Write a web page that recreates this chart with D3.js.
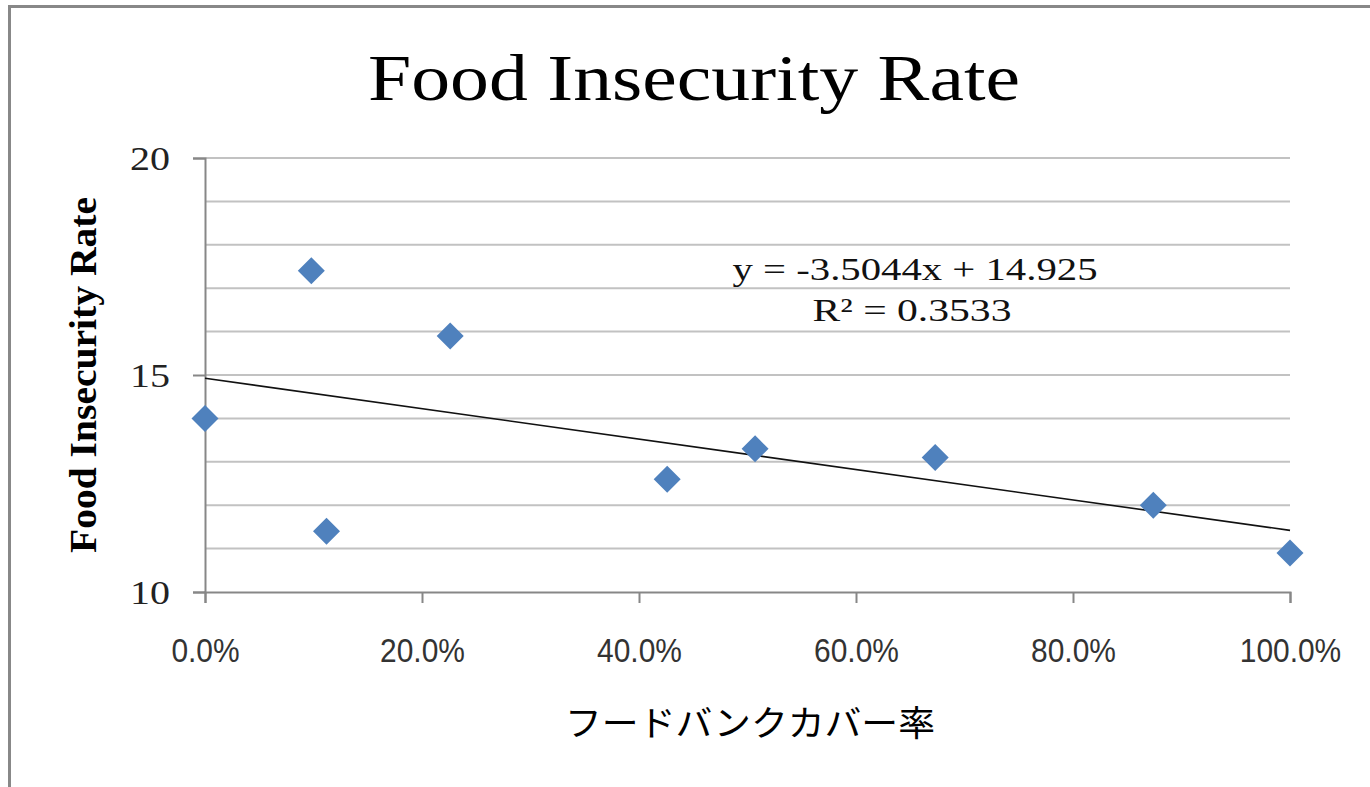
<!DOCTYPE html>
<html>
<head>
<meta charset="utf-8">
<script src="https://cdn.jsdelivr.net/npm/d3@7/dist/d3.min.js"></script>
<style>
  html, body { margin: 0; padding: 0; background: #fff; }
  svg { display: block; }
</style>
</head>
<body>
<svg id="chart" width="1370" height="787"></svg>
<script>
// Food bank coverage (share) vs. food insecurity rate
const coverage = [0.0, 0.098, 0.112, 0.226, 0.426, 0.507, 0.673, 0.874, 1.0];
const insecurity = [14.0, 17.4, 11.4, 15.9, 12.6, 13.3, 13.1, 12.0, 10.9];

// Linear trendline as reported on the chart
const trendSlope = -3.5044;
const trendIntercept = 14.925;
const trendLabel = "y = -3.5044x + 14.925";
const r2Label = "R\u00B2 = 0.3533";

const xTicks = [0, 0.2, 0.4, 0.6, 0.8, 1.0];
const yMajorTicks = [10, 15, 20];
const yGridValues = [11, 12, 13, 14, 15, 16, 17, 18, 19, 20];

const titleText = "Food Insecurity Rate";
const yTitleText = "Food Insecurity Rate";
const xTitleText = "フードバンクカバー率";

const svg = d3.select("#chart");
const W = 1370, H = 787;

const x = d3.scaleLinear().domain([0, 1]).range([205, 1290]);
const y = d3.scaleLinear().domain([10, 20]).range([592, 158]);

// outer chart frame
svg.append("rect")
  .attr("x", 9.5).attr("y", 6.5)
  .attr("width", W + 20).attr("height", H + 20)
  .attr("fill", "#fff")
  .attr("stroke", "#888").attr("stroke-width", 3);

// title
svg.append("text")
  .attr("x", 694).attr("y", 100)
  .attr("text-anchor", "middle")
  .attr("font-family", "'Liberation Serif', 'DejaVu Serif', serif")
  .attr("font-size", 66)
  .attr("textLength", 652).attr("lengthAdjust", "spacingAndGlyphs")
  .attr("fill", "#000")
  .text(titleText);

// horizontal gridlines
svg.append("g").selectAll("line")
  .data(yGridValues)
  .join("line")
  .attr("x1", x(0)).attr("x2", x(1))
  .attr("y1", d => y(d)).attr("y2", d => y(d))
  .attr("stroke", "#c2c2c2").attr("stroke-width", 2);

// y axis
const yAxis = d3.axisLeft(y).tickValues(yMajorTicks).tickSize(12).tickPadding(23).tickFormat(d3.format("d"));
const gy = svg.append("g").attr("transform", `translate(${x(0)},0)`).call(yAxis);
gy.select(".domain").attr("stroke", "#878787").attr("stroke-width", 2);
gy.selectAll(".tick line").attr("stroke", "#878787").attr("stroke-width", 2);
gy.selectAll(".tick text")
  .attr("font-family", "'Liberation Serif', 'DejaVu Serif', serif")
  .attr("font-size", 33).attr("fill", "#222")
  .attr("textLength", 40).attr("lengthAdjust", "spacingAndGlyphs")
  .attr("dy", "0.34em");

// x axis
const xAxis = d3.axisBottom(x).tickValues(xTicks).tickSize(11).tickPadding(0).tickFormat(d3.format(".1%"));
const gx = svg.append("g").attr("transform", `translate(0,${y(10)})`).call(xAxis);
gx.select(".domain").attr("stroke", "#878787").attr("stroke-width", 2);
gx.selectAll(".tick line").attr("stroke", "#878787").attr("stroke-width", 2);
gx.selectAll(".tick text")
  .attr("font-family", "'Liberation Sans', Arial, sans-serif")
  .attr("font-size", 34).attr("fill", "#333")
  .attr("y", 0).attr("dy", 0)
  .attr("transform", "translate(0,70) scale(0.88,1)");

// trendline
svg.append("line")
  .attr("x1", x(0)).attr("y1", y(trendIntercept))
  .attr("x2", x(1)).attr("y2", y(trendIntercept + trendSlope))
  .attr("stroke", "#111").attr("stroke-width", 1.6);

// data points (diamonds)
const diamond = "M0,-13.5L13.5,0L0,13.5L-13.5,0Z";
svg.append("g").selectAll("path")
  .data(coverage.map((c, i) => [c, insecurity[i]]))
  .join("path")
  .attr("d", diamond)
  .attr("transform", d => `translate(${x(d[0])},${y(d[1])})`)
  .attr("fill", "#4F81BD");

// trendline equation and R²
svg.append("text")
  .attr("x", 915).attr("y", 280)
  .attr("text-anchor", "middle")
  .attr("font-family", "'Liberation Serif', 'DejaVu Serif', serif")
  .attr("font-size", 32)
  .attr("textLength", 365).attr("lengthAdjust", "spacingAndGlyphs")
  .attr("fill", "#111")
  .text(trendLabel);
svg.append("text")
  .attr("x", 912).attr("y", 321)
  .attr("text-anchor", "middle")
  .attr("font-family", "'Liberation Serif', 'DejaVu Serif', serif")
  .attr("font-size", 32)
  .attr("textLength", 199).attr("lengthAdjust", "spacingAndGlyphs")
  .attr("fill", "#111")
  .text(r2Label);

// y axis title
svg.append("text")
  .attr("transform", "translate(96,375) rotate(-90)")
  .attr("text-anchor", "middle")
  .attr("font-family", "'Liberation Serif', 'DejaVu Serif', serif")
  .attr("font-weight", "bold")
  .attr("font-size", 37)
  .attr("textLength", 356).attr("lengthAdjust", "spacingAndGlyphs")
  .attr("fill", "#000")
  .text(yTitleText);

// x axis title
svg.append("text")
  .attr("x", 750).attr("y", 736)
  .attr("text-anchor", "middle")
  .attr("font-family", "'Noto Sans CJK JP', sans-serif")
  .attr("font-size", 35)
  .attr("textLength", 370).attr("lengthAdjust", "spacingAndGlyphs")
  .attr("fill", "#000")
  .text(xTitleText);
</script>
</body>
</html>
